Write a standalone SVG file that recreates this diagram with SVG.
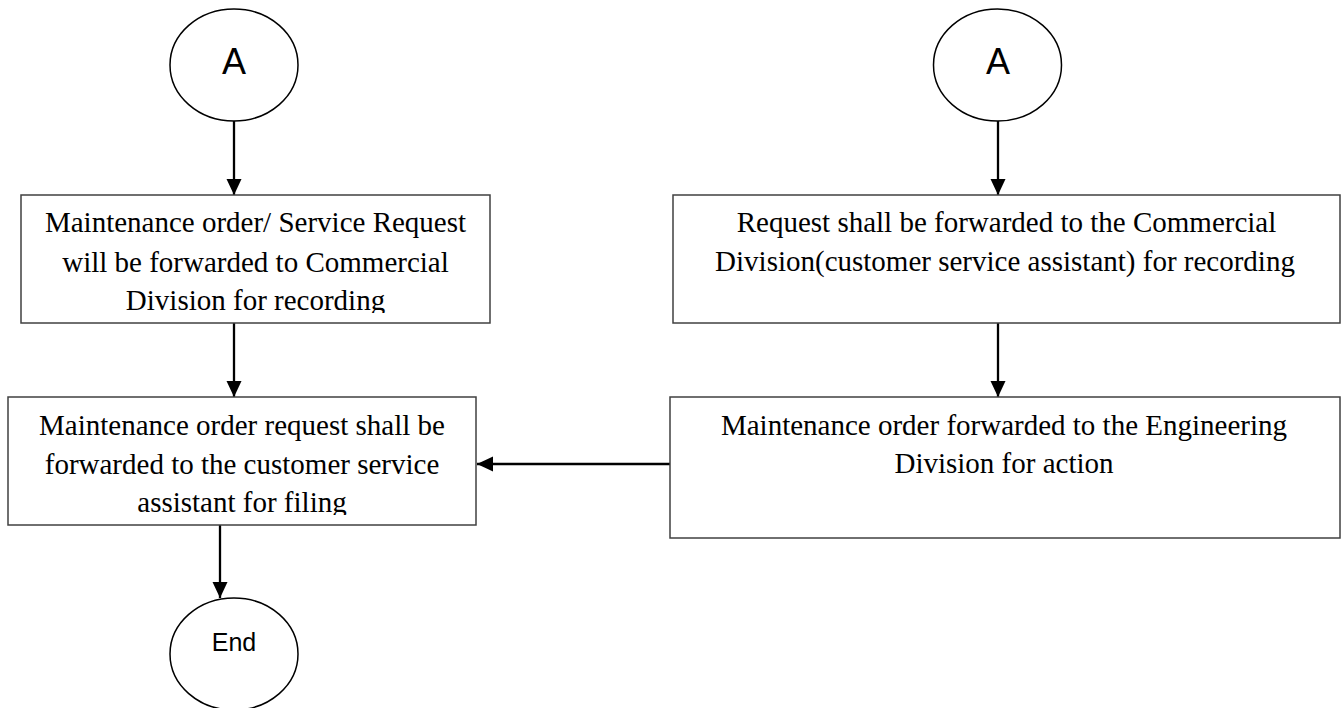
<svg xmlns="http://www.w3.org/2000/svg" width="1341" height="708" viewBox="0 0 1341 708">
<style>
.box{fill:#fff;stroke:#404040;stroke-width:1.5}
.term{fill:#fff;stroke:#000;stroke-width:1.5}
.lbl{font-family:"Liberation Serif","Times New Roman",serif;font-size:29px;fill:#000;text-anchor:middle}
.sym{font-family:"Liberation Sans",Arial,sans-serif;fill:#000;text-anchor:middle}
.conn{stroke:#000;stroke-width:2.3;fill:none;marker-end:url(#arr)}
</style>
<defs>
<marker id="arr" markerUnits="userSpaceOnUse" markerWidth="18" markerHeight="18" viewBox="0 0 18 18" refX="16" refY="9" orient="auto">
<path d="M0,1.5 L16,9 L0,16.5 Z" fill="#000"/>
</marker>
<clipPath id="clipL1"><rect x="0" y="0" width="1341" height="313"/></clipPath>
<clipPath id="clipL2"><rect x="0" y="0" width="1341" height="515"/></clipPath>
</defs>
<rect width="1341" height="708" fill="#fff"/>
<g id="connectors">
<line class="conn" x1="234" y1="121" x2="234" y2="195"/>
<line class="conn" x1="234" y1="323" x2="234" y2="397"/>
<line class="conn" x1="220" y1="525" x2="220" y2="598"/>
<line class="conn" x1="998" y1="121" x2="998" y2="195"/>
<line class="conn" x1="998" y1="323" x2="998" y2="397"/>
<line class="conn" x1="670" y1="464" x2="477" y2="464"/>
</g>
<g id="startA1">
<ellipse class="term" cx="234" cy="65" rx="64" ry="56"/>
<text class="sym" x="234" y="74" font-size="36">A</text>
</g>
<g id="startA2">
<ellipse class="term" cx="997.5" cy="65" rx="64" ry="56"/>
<text class="sym" x="998" y="74" font-size="36">A</text>
</g>
<g id="boxL1">
<rect class="box" x="21" y="195" width="469" height="128"/>
<text class="lbl" clip-path="url(#clipL1)"><tspan x="255.5" y="232">Maintenance order/ Service Request</tspan><tspan x="255.5" y="272">will be forwarded to Commercial</tspan><tspan x="255.5" y="310">Division for recording</tspan></text>
</g>
<g id="boxL2">
<rect class="box" x="8" y="397" width="468" height="128"/>
<text class="lbl" clip-path="url(#clipL2)"><tspan x="242" y="435">Maintenance order request shall be</tspan><tspan x="242" y="474">forwarded to the customer service</tspan><tspan x="242" y="512">assistant for filing</tspan></text>
</g>
<g id="boxR1">
<rect class="box" x="673" y="195" width="667" height="128"/>
<text class="lbl"><tspan x="1006.5" y="232">Request shall be forwarded to the Commercial</tspan><tspan x="1005" y="271">Division(customer service assistant) for recording</tspan></text>
</g>
<g id="boxR2">
<rect class="box" x="670" y="397" width="670" height="141"/>
<text class="lbl"><tspan x="1004" y="435">Maintenance order forwarded to the Engineering</tspan><tspan x="1004" y="473">Division for action</tspan></text>
</g>
<g id="end">
<ellipse class="term" cx="234" cy="654" rx="64" ry="56"/>
<text class="sym" x="234" y="651" font-size="25">End</text>
</g>
</svg>
